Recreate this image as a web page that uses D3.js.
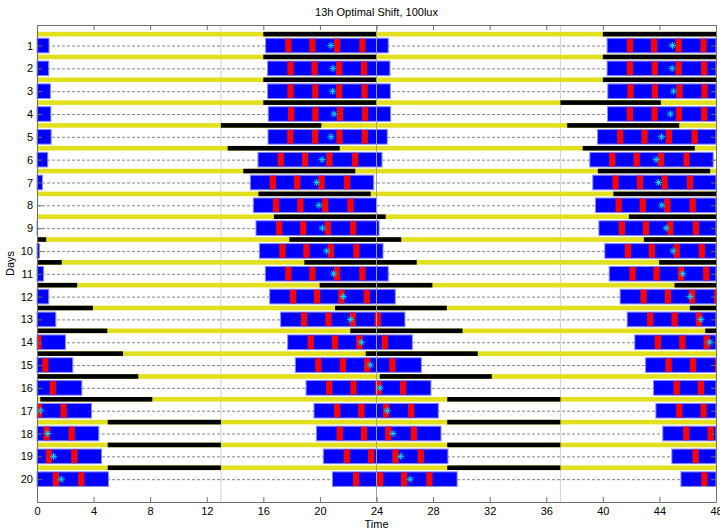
<!DOCTYPE html>
<html>
<head>
<meta charset="utf-8">
<script src="https://cdn.jsdelivr.net/npm/d3@7"></script>
<style>
  body { margin: 0; background: #fff; }
  text { font-family: "Liberation Sans", Arial, sans-serif; }
</style>
</head>
<body>
<div id="chart"></div>
<script>
// sleep episodes, one per day (hours from the start of that day); day 0 is the day before row 1
var sleepOn  = [16.16, 16.16, 16.30, 16.30, 16.35, 16.33, 15.62, 15.08, 15.29, 15.48, 15.72,
                16.14, 16.45, 17.22, 17.72, 18.26, 19.02, 19.58, 19.75, 20.24, 20.88, 21.52];
var sleepOff = [24.85, 24.83, 24.95, 24.98, 25.00, 24.76, 24.39, 23.80, 24.01, 24.18, 24.46,
                24.83, 25.33, 26.01, 26.53, 27.17, 27.85, 28.37, 28.56, 29.05, 29.70, 30.40];
var remOn = [
  [17.55, 19.25, 21.00, 22.78], [17.55, 19.25, 21.00, 22.78], [17.70, 19.40, 21.14, 22.90],
  [17.70, 19.45, 21.14, 22.94], [17.74, 19.46, 21.20, 22.97], [17.69, 19.44, 21.16, 22.95],
  [17.01, 18.73, 20.45, 22.27], [16.45, 18.17, 19.89, 21.70], [16.68, 18.40, 20.15, 21.94],
  [16.90, 18.60, 20.34, 22.13], [17.13, 18.83, 20.55, 22.36], [17.55, 19.25, 21.00, 22.78],
  [17.88, 19.58, 21.30, 23.09], [18.66, 20.38, 22.10, 23.87], [19.13, 20.85, 22.57, 24.37],
  [19.67, 21.40, 23.12, 24.90], [20.43, 22.15, 23.92, 25.66], [21.00, 22.71, 24.46, 26.23],
  [21.18, 22.90, 24.62, 26.42], [21.68, 23.40, 25.12, 26.91], [22.34, 24.04, 25.73, 27.52],
  [22.96, 24.66, 26.40, 28.20]
];
var remLen = 0.44;
var phaseMark = [20.78, 20.78, 20.92, 20.90, 21.00, 20.78, 20.15, 19.77, 19.93, 20.17, 20.48,
                 20.97, 21.65, 22.17, 22.93, 23.56, 24.25, 24.76, 25.17, 25.71, 26.37, 27.00];

// dark periods of the light schedule (day, lights off, lights on)
var darkDay = [0, 1, 2, 3, 4, 5, 6, 7, 8, 9, 10, 11, 12, 13, 14, 15, 16, 18, 19, 20, 21];
var darkOn  = [16, 16, 16, 16, 16, 13.0, 13.48, 14.58, 15.65, 16.75, 17.84, 18.90, 19.98,
               21.07, 22.15, 23.24, 24.23, 5, 5, 5, 5];
var darkOff = [24, 24, 24, 24, 24, 20.1, 21.40, 22.50, 23.59, 24.65, 25.75, 26.84, 27.95,
               28.97, 30.08, 31.16, 32.15, 13, 13, 13, 13];

var rows = d3.range(1, 21);
var xTicks = d3.range(0, 49, 4);
var markLines = [13, 37];

var width = 720, height = 531;
var x = d3.scaleLinear().domain([0, 48]).range([37, 716]);
var y = d3.scaleLinear().domain([0.1, 21]).range([25, 502]);

var svg = d3.select('#chart')
  .append('svg')
    .attr('width', width)
    .attr('height', height);

function clampX(v) { return Math.max(0, Math.min(48, v)); }

// pieces of a day-based interval that land in one double-plotted row
function piecesFor(r, day, a, b) {
  var off = (day - r) * 24;
  var s = clampX(a + off), e = clampX(b + off);
  return e > s ? [{ s: s, e: e }] : [];
}

// thin reference lines
svg.selectAll('line.mark')
  .data(markLines)
  .enter().append('line')
    .attr('x1', function (d) { return x(d); })
    .attr('x2', function (d) { return x(d); })
    .attr('y1', y.range()[0])
    .attr('y2', y.range()[1])
    .attr('stroke', '#d0d0d0')
    .attr('stroke-width', 1);

// dashed row lines
svg.selectAll('line.row')
  .data(rows)
  .enter().append('line')
    .attr('x1', x(0))
    .attr('x2', x(48))
    .attr('y1', function (r) { return y(r) + 0.5; })
    .attr('y2', function (r) { return y(r) + 0.5; })
    .attr('stroke', '#858585')
    .attr('stroke-width', 1)
    .attr('stroke-dasharray', '3,2');

var rowG = svg.selectAll('g.day')
  .data(rows)
  .enter().append('g')
    .attr('class', 'day');

// light schedule bars
rowG.each(function (r) {
  var g = d3.select(this);
  var yc = y(r - 0.5);
  g.append('rect')
    .attr('x', x(0))
    .attr('width', x(48) - x(0))
    .attr('y', yc - 2.3)
    .attr('height', 4.6)
    .attr('fill', '#e2e01e');
  var dark = [];
  darkDay.forEach(function (d, i) {
    dark = dark.concat(piecesFor(r, d, darkOn[i], darkOff[i]));
  });
  g.selectAll('rect.dark')
    .data(dark)
    .enter().append('rect')
      .attr('x', function (p) { return x(p.s); })
      .attr('width', function (p) { return x(p.e) - x(p.s); })
      .attr('y', yc - 2.3)
      .attr('height', 4.6)
      .attr('fill', '#000');
});

// sleep episodes with REM stripes and phase markers
rowG.each(function (r) {
  var g = d3.select(this);
  var top = y(r - 0.32), bot = y(r + 0.32);
  var blocks = [], rems = [], marks = [];
  [r - 1, r, r + 1].forEach(function (d) {
    if (d < 0 || d >= sleepOn.length) return;
    blocks = blocks.concat(piecesFor(r, d, sleepOn[d], sleepOff[d]));
    remOn[d].forEach(function (t) {
      rems = rems.concat(piecesFor(r, d, t, Math.min(t + remLen, sleepOff[d])));
    });
    var m = phaseMark[d] + (d - r) * 24;
    if (m >= 0 && m <= 48) marks.push(m);
  });
  g.selectAll('rect.sleep')
    .data(blocks)
    .enter().append('rect')
      .attr('x', function (p) { return x(p.s); })
      .attr('width', function (p) { return x(p.e) - x(p.s); })
      .attr('y', top)
      .attr('height', bot - top)
      .attr('fill', '#0000ff')
      .attr('stroke', '#8a8aff')
      .attr('stroke-width', 1);
  g.selectAll('rect.rem')
    .data(rems)
    .enter().append('rect')
      .attr('x', function (p) { return x(p.s); })
      .attr('width', function (p) { return x(p.e) - x(p.s); })
      .attr('y', top + 0.5)
      .attr('height', bot - top - 1)
      .attr('fill', '#ff0000');
  g.selectAll('path.mark')
    .data(marks)
    .enter().append('path')
      .attr('d', function (m) {
        var cx = x(m), cy = y(r), s = 3.5, t = 2.5;
        return 'M' + (cx - s) + ',' + cy + 'H' + (cx + s) +
               'M' + cx + ',' + (cy - s) + 'V' + (cy + s) +
               'M' + (cx - t) + ',' + (cy - t) + 'L' + (cx + t) + ',' + (cy + t) +
               'M' + (cx - t) + ',' + (cy + t) + 'L' + (cx + t) + ',' + (cy - t);
      })
      .attr('stroke', '#00d8ff')
      .attr('stroke-width', 1)
      .attr('fill', 'none');
});

// midnight line on top
svg.append('line')
  .attr('x1', x(24)).attr('x2', x(24))
  .attr('y1', y.range()[0]).attr('y2', y.range()[1])
  .attr('stroke', '#a0a0a0')
  .attr('stroke-width', 1);

// axes (MATLAB-like box with inward ticks)
var axisColor = '#6e6e6e';
var bottom = svg.append('g')
  .attr('transform', 'translate(0,' + y.range()[1] + ')')
  .call(d3.axisBottom(x).tickValues(xTicks).tickSizeInner(-5).tickSizeOuter(0).tickPadding(5));
var topAx = svg.append('g')
  .attr('transform', 'translate(0,' + y.range()[0] + ')')
  .call(d3.axisTop(x).tickValues(xTicks).tickSizeInner(-5).tickSizeOuter(0).tickFormat(''));
var left = svg.append('g')
  .attr('transform', 'translate(' + x.range()[0] + ',0)')
  .call(d3.axisLeft(y).tickValues(rows).tickSizeInner(-5).tickSizeOuter(0).tickPadding(4));
var right = svg.append('g')
  .attr('transform', 'translate(' + x.range()[1] + ',0)')
  .call(d3.axisRight(y).tickValues(rows).tickSizeInner(-5).tickSizeOuter(0).tickFormat(''));

[bottom, topAx, left, right].forEach(function (a) {
  a.select('.domain').attr('stroke', axisColor);
  a.selectAll('.tick line').attr('stroke', axisColor);
  a.selectAll('.tick text')
    .attr('fill', '#000')
    .style('font-size', '11px')
    .style('font-family', '"Liberation Sans", Arial, sans-serif');
});

svg.append('text')
  .attr('x', (x.range()[0] + x.range()[1]) / 2)
  .attr('y', 16)
  .attr('text-anchor', 'middle')
  .style('font-size', '11px')
  .text('13h Optimal Shift, 100lux');

svg.append('text')
  .attr('x', (x.range()[0] + x.range()[1]) / 2)
  .attr('y', 528)
  .attr('text-anchor', 'middle')
  .style('font-size', '11px')
  .text('Time');

svg.append('text')
  .attr('transform', 'translate(14,' + (y.range()[0] + y.range()[1]) / 2 + ') rotate(-90)')
  .attr('text-anchor', 'middle')
  .style('font-size', '11px')
  .text('Days');
</script>
</body>
</html>
